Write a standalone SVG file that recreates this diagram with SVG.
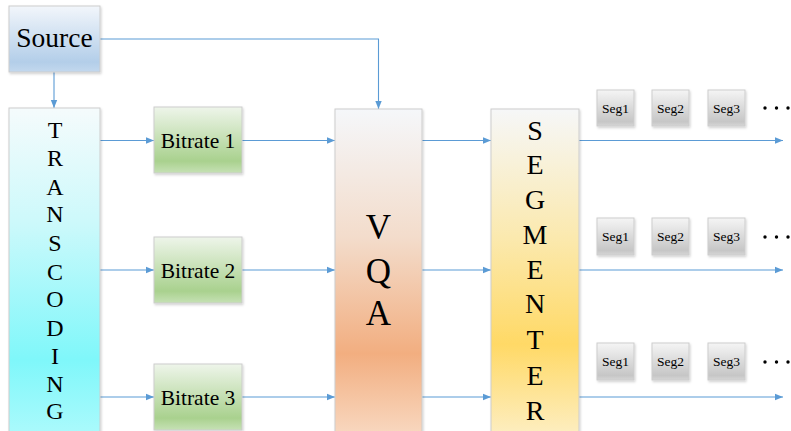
<svg xmlns="http://www.w3.org/2000/svg" width="791" height="431" viewBox="0 0 791 431">
  <defs>
    <linearGradient id="gSource" x1="0" y1="0" x2="0" y2="1">
      <stop offset="0" stop-color="#f2f6fb"/>
      <stop offset="0.85" stop-color="#b3cee9"/>
      <stop offset="1" stop-color="#c3d8ee"/>
    </linearGradient>
    <linearGradient id="gTrans" gradientUnits="userSpaceOnUse" x1="0" y1="108" x2="0" y2="431">
      <stop offset="0" stop-color="#f5fbfc"/>
      <stop offset="0.35" stop-color="#cdf9fb"/>
      <stop offset="0.78" stop-color="#7ff7fa"/>
      <stop offset="1" stop-color="#a9fafc"/>
    </linearGradient>
    <linearGradient id="gBitrate" x1="0" y1="0" x2="0" y2="1">
      <stop offset="0" stop-color="#eef5ea"/>
      <stop offset="0.82" stop-color="#a9d18e"/>
      <stop offset="1" stop-color="#c6e1b5"/>
    </linearGradient>
    <linearGradient id="gVqa" gradientUnits="userSpaceOnUse" x1="0" y1="109" x2="0" y2="431">
      <stop offset="0" stop-color="#f5f7fa"/>
      <stop offset="0.4" stop-color="#f3dccb"/>
      <stop offset="0.76" stop-color="#f2ae80"/>
      <stop offset="1" stop-color="#f8d6bd"/>
    </linearGradient>
    <linearGradient id="gSeg" gradientUnits="userSpaceOnUse" x1="0" y1="109" x2="0" y2="431">
      <stop offset="0" stop-color="#f6f7f8"/>
      <stop offset="0.4" stop-color="#fbe9ae"/>
      <stop offset="0.73" stop-color="#ffd966"/>
      <stop offset="1" stop-color="#fdedbd"/>
    </linearGradient>
    <linearGradient id="gChunk" x1="0" y1="0" x2="0" y2="1">
      <stop offset="0" stop-color="#f5f5f5"/>
      <stop offset="0.88" stop-color="#c6c6c6"/>
      <stop offset="1" stop-color="#d6d6d6"/>
    </linearGradient>
    <filter id="shadow" x="-10%" y="-10%" width="130%" height="130%">
      <feDropShadow dx="1" dy="1.5" stdDeviation="1.2" flood-color="#000" flood-opacity="0.18"/>
    </filter>
    <marker id="arrow" viewBox="0 0 10 10" refX="10" refY="5" markerWidth="8" markerHeight="8" markerUnits="userSpaceOnUse" orient="auto">
      <path d="M0,1 L10,5 L0,9 z" fill="#5b9bd5"/>
    </marker>
  </defs>
  <style>
    .box { stroke: #cdcdcd; stroke-width: 1; filter: url(#shadow); }
    .lbl { fill: #000; text-anchor: middle; }
    .link { fill: none; stroke: #5b9bd5; stroke-width: 1.1; marker-end: url(#arrow); }
    .dots { fill: #000; }
  </style>

  <rect width="791" height="431" fill="#ffffff"/>

  <!-- connectors -->
  <g id="connectors">
    <path class="link" d="M54,72 V108"/>
    <path class="link" d="M100,39 H378.5 V109"/>
    <path class="link" d="M100,140.5 H154"/>
    <path class="link" d="M100,270 H154"/>
    <path class="link" d="M100,397 H154"/>
    <path class="link" d="M242,140.5 H335"/>
    <path class="link" d="M242,270 H335"/>
    <path class="link" d="M242,397 H335"/>
    <path class="link" d="M422,140.5 H491"/>
    <path class="link" d="M422,270 H491"/>
    <path class="link" d="M422,397 H491"/>
    <path class="link" d="M579,140.5 H783"/>
    <path class="link" d="M579,270 H783"/>
    <path class="link" d="M579,397 H783"/>
  </g>

  <g font-family="'Liberation Serif', 'Times New Roman', 'DejaVu Serif', serif">
    <!-- source -->
    <g id="source">
      <rect class="box" x="9" y="6" width="91" height="66" fill="url(#gSource)"/>
      <text class="lbl" x="54.5" y="47" font-size="27.5">Source</text>
    </g>

    <!-- transcoding column -->
    <g id="transcoding">
      <rect class="box" x="9" y="108" width="91" height="330" fill="url(#gTrans)"/>
      <g class="lbl" font-size="24">
        <text x="55" y="138">T</text>
        <text x="55" y="166">R</text>
        <text x="55" y="194.5">A</text>
        <text x="55" y="222">N</text>
        <text x="55" y="251">S</text>
        <text x="55" y="280">C</text>
        <text x="55" y="307">O</text>
        <text x="55" y="335.5">D</text>
        <text x="55" y="363.5">I</text>
        <text x="55" y="392">N</text>
        <text x="55" y="418.5">G</text>
      </g>
    </g>

    <!-- bitrates -->
    <g id="bitrate1">
      <rect class="box" x="154" y="107" width="88" height="66" fill="url(#gBitrate)"/>
      <text class="lbl" x="198" y="147.5" font-size="21.5">Bitrate 1</text>
    </g>
    <g id="bitrate2">
      <rect class="box" x="154" y="237" width="88" height="66" fill="url(#gBitrate)"/>
      <text class="lbl" x="198" y="277.5" font-size="21.5">Bitrate 2</text>
    </g>
    <g id="bitrate3">
      <rect class="box" x="154" y="364" width="88" height="66" fill="url(#gBitrate)"/>
      <text class="lbl" x="198" y="404.5" font-size="21.5">Bitrate 3</text>
    </g>

    <!-- quality assessment -->
    <g id="vqa">
      <rect class="box" x="335" y="109" width="87" height="330" fill="url(#gVqa)"/>
      <g class="lbl" font-size="35">
        <text x="378.5" y="239">V</text>
        <text x="378.5" y="283">Q</text>
        <text x="378.5" y="325">A</text>
      </g>
    </g>

    <!-- segmenter -->
    <g id="segmenter">
      <rect class="box" x="491" y="109" width="88" height="330" fill="url(#gSeg)"/>
      <g class="lbl" font-size="28">
        <text x="535" y="140">S</text>
        <text x="535" y="174">E</text>
        <text x="535" y="209">G</text>
        <text x="535" y="244">M</text>
        <text x="535" y="279">E</text>
        <text x="535" y="313">N</text>
        <text x="535" y="349">T</text>
        <text x="535" y="385">E</text>
        <text x="535" y="420">R</text>
      </g>
    </g>

    <!-- segment rows -->
    <g id="segments-row1">
      <rect class="box" x="597" y="90" width="37" height="36" fill="url(#gChunk)"/>
      <rect class="box" x="652" y="90" width="37" height="36" fill="url(#gChunk)"/>
      <rect class="box" x="708" y="90" width="37" height="36" fill="url(#gChunk)"/>
      <text class="lbl" x="615.5" y="112.5" font-size="13.5">Seg1</text>
      <text class="lbl" x="670.5" y="112.5" font-size="13.5">Seg2</text>
      <text class="lbl" x="726.5" y="112.5" font-size="13.5">Seg3</text>
      <circle class="dots" cx="765" cy="108" r="1.7"/>
      <circle class="dots" cx="776.5" cy="108" r="1.7"/>
      <circle class="dots" cx="788" cy="108" r="1.7"/>
    </g>
    <g id="segments-row2">
      <rect class="box" x="597" y="218" width="37" height="37" fill="url(#gChunk)"/>
      <rect class="box" x="652" y="218" width="37" height="37" fill="url(#gChunk)"/>
      <rect class="box" x="708" y="218" width="37" height="37" fill="url(#gChunk)"/>
      <text class="lbl" x="615.5" y="241" font-size="13.5">Seg1</text>
      <text class="lbl" x="670.5" y="241" font-size="13.5">Seg2</text>
      <text class="lbl" x="726.5" y="241" font-size="13.5">Seg3</text>
      <circle class="dots" cx="765" cy="237" r="1.7"/>
      <circle class="dots" cx="776.5" cy="237" r="1.7"/>
      <circle class="dots" cx="788" cy="237" r="1.7"/>
    </g>
    <g id="segments-row3">
      <rect class="box" x="597" y="343" width="37" height="37" fill="url(#gChunk)"/>
      <rect class="box" x="652" y="343" width="37" height="37" fill="url(#gChunk)"/>
      <rect class="box" x="708" y="343" width="37" height="37" fill="url(#gChunk)"/>
      <text class="lbl" x="615.5" y="366" font-size="13.5">Seg1</text>
      <text class="lbl" x="670.5" y="366" font-size="13.5">Seg2</text>
      <text class="lbl" x="726.5" y="366" font-size="13.5">Seg3</text>
      <circle class="dots" cx="765" cy="362" r="1.7"/>
      <circle class="dots" cx="776.5" cy="362" r="1.7"/>
      <circle class="dots" cx="788" cy="362" r="1.7"/>
    </g>
  </g>
</svg>
